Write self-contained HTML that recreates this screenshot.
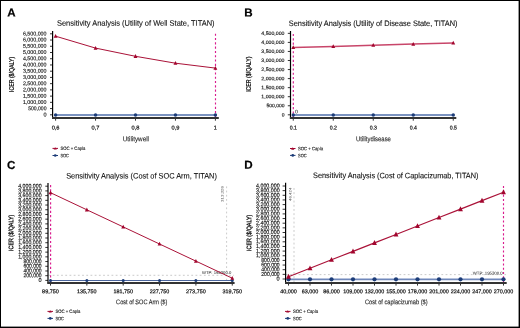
<!DOCTYPE html><html><head><meta charset="utf-8"><style>html,body{margin:0;padding:0;background:#fff;}svg{display:block;font-family:"Liberation Sans",sans-serif;} text{filter:grayscale(1);}</style></head><body>
<svg width="520" height="328" viewBox="0 0 520 328">
<rect x="0" y="0" width="520" height="328" fill="#fff"/>
<text x="7.20" y="16.50" font-size="11.6" text-anchor="start" fill="#000" stroke="#000" stroke-width="0.2" font-weight="bold" transform="rotate(0.05,7.20,16.50)" >A</text>
<text x="244.30" y="16.60" font-size="11.6" text-anchor="start" fill="#000" stroke="#000" stroke-width="0.2" font-weight="bold" transform="rotate(0.05,244.30,16.60)" >B</text>
<text x="6.90" y="168.90" font-size="11.6" text-anchor="start" fill="#000" stroke="#000" stroke-width="0.2" font-weight="bold" transform="rotate(0.05,6.90,168.90)" >C</text>
<text x="244.30" y="168.80" font-size="11.6" text-anchor="start" fill="#000" stroke="#000" stroke-width="0.2" font-weight="bold" transform="rotate(0.05,244.30,168.80)" >D</text>
<text x="57.00" y="25.70" font-size="7.9" text-anchor="start" fill="#111" stroke="#111" stroke-width="0.1" font-weight="normal" textLength="157.50" lengthAdjust="spacingAndGlyphs" transform="rotate(0.05,57.00,25.70)" >Sensitivity Analysis (Utility of Well State, TITAN)</text>
<line x1="50.00" y1="114.80" x2="52.60" y2="114.80" stroke="#000" stroke-width="0.8"/>
<text x="46.50" y="116.40" font-size="5.5" text-anchor="end" fill="#111" stroke="#111" stroke-width="0.13" font-weight="normal" transform="rotate(0.05,46.50,116.40)" >0</text>
<line x1="50.00" y1="108.57" x2="52.60" y2="108.57" stroke="#000" stroke-width="0.8"/>
<text x="46.50" y="110.17" font-size="5.5" text-anchor="end" fill="#111" stroke="#111" stroke-width="0.13" font-weight="normal" textLength="18.36" lengthAdjust="spacingAndGlyphs" transform="rotate(0.05,46.50,110.17)" >500,000</text>
<line x1="50.00" y1="102.34" x2="52.60" y2="102.34" stroke="#000" stroke-width="0.8"/>
<text x="46.50" y="103.94" font-size="5.5" text-anchor="end" fill="#111" stroke="#111" stroke-width="0.13" font-weight="normal" textLength="23.60" lengthAdjust="spacingAndGlyphs" transform="rotate(0.05,46.50,103.94)" >1,000,000</text>
<line x1="50.00" y1="96.11" x2="52.60" y2="96.11" stroke="#000" stroke-width="0.8"/>
<text x="46.50" y="97.71" font-size="5.5" text-anchor="end" fill="#111" stroke="#111" stroke-width="0.13" font-weight="normal" textLength="23.60" lengthAdjust="spacingAndGlyphs" transform="rotate(0.05,46.50,97.71)" >1,500,000</text>
<line x1="50.00" y1="89.88" x2="52.60" y2="89.88" stroke="#000" stroke-width="0.8"/>
<text x="46.50" y="91.48" font-size="5.5" text-anchor="end" fill="#111" stroke="#111" stroke-width="0.13" font-weight="normal" textLength="23.60" lengthAdjust="spacingAndGlyphs" transform="rotate(0.05,46.50,91.48)" >2,000,000</text>
<line x1="50.00" y1="83.65" x2="52.60" y2="83.65" stroke="#000" stroke-width="0.8"/>
<text x="46.50" y="85.25" font-size="5.5" text-anchor="end" fill="#111" stroke="#111" stroke-width="0.13" font-weight="normal" textLength="23.60" lengthAdjust="spacingAndGlyphs" transform="rotate(0.05,46.50,85.25)" >2,500,000</text>
<line x1="50.00" y1="77.42" x2="52.60" y2="77.42" stroke="#000" stroke-width="0.8"/>
<text x="46.50" y="79.02" font-size="5.5" text-anchor="end" fill="#111" stroke="#111" stroke-width="0.13" font-weight="normal" textLength="23.60" lengthAdjust="spacingAndGlyphs" transform="rotate(0.05,46.50,79.02)" >3,000,000</text>
<line x1="50.00" y1="71.19" x2="52.60" y2="71.19" stroke="#000" stroke-width="0.8"/>
<text x="46.50" y="72.79" font-size="5.5" text-anchor="end" fill="#111" stroke="#111" stroke-width="0.13" font-weight="normal" textLength="23.60" lengthAdjust="spacingAndGlyphs" transform="rotate(0.05,46.50,72.79)" >3,500,000</text>
<line x1="50.00" y1="64.96" x2="52.60" y2="64.96" stroke="#000" stroke-width="0.8"/>
<text x="46.50" y="66.56" font-size="5.5" text-anchor="end" fill="#111" stroke="#111" stroke-width="0.13" font-weight="normal" textLength="23.60" lengthAdjust="spacingAndGlyphs" transform="rotate(0.05,46.50,66.56)" >4,000,000</text>
<line x1="50.00" y1="58.73" x2="52.60" y2="58.73" stroke="#000" stroke-width="0.8"/>
<text x="46.50" y="60.33" font-size="5.5" text-anchor="end" fill="#111" stroke="#111" stroke-width="0.13" font-weight="normal" textLength="23.60" lengthAdjust="spacingAndGlyphs" transform="rotate(0.05,46.50,60.33)" >4,500,000</text>
<line x1="50.00" y1="52.50" x2="52.60" y2="52.50" stroke="#000" stroke-width="0.8"/>
<text x="46.50" y="54.10" font-size="5.5" text-anchor="end" fill="#111" stroke="#111" stroke-width="0.13" font-weight="normal" textLength="23.60" lengthAdjust="spacingAndGlyphs" transform="rotate(0.05,46.50,54.10)" >5,000,000</text>
<line x1="50.00" y1="46.27" x2="52.60" y2="46.27" stroke="#000" stroke-width="0.8"/>
<text x="46.50" y="47.87" font-size="5.5" text-anchor="end" fill="#111" stroke="#111" stroke-width="0.13" font-weight="normal" textLength="23.60" lengthAdjust="spacingAndGlyphs" transform="rotate(0.05,46.50,47.87)" >5,500,000</text>
<line x1="50.00" y1="40.04" x2="52.60" y2="40.04" stroke="#000" stroke-width="0.8"/>
<text x="46.50" y="41.64" font-size="5.5" text-anchor="end" fill="#111" stroke="#111" stroke-width="0.13" font-weight="normal" textLength="23.60" lengthAdjust="spacingAndGlyphs" transform="rotate(0.05,46.50,41.64)" >6,000,000</text>
<line x1="50.00" y1="33.81" x2="52.60" y2="33.81" stroke="#000" stroke-width="0.8"/>
<text x="46.50" y="35.41" font-size="5.5" text-anchor="end" fill="#111" stroke="#111" stroke-width="0.13" font-weight="normal" textLength="23.60" lengthAdjust="spacingAndGlyphs" transform="rotate(0.05,46.50,35.41)" >6,500,000</text>
<line x1="55.60" y1="118.00" x2="55.60" y2="120.70" stroke="#000" stroke-width="0.8"/>
<text x="55.60" y="129.60" font-size="5.5" text-anchor="middle" fill="#111" stroke="#111" stroke-width="0.2" font-weight="normal" textLength="7.90" lengthAdjust="spacingAndGlyphs" transform="rotate(0.05,55.60,129.60)" >0,6</text>
<line x1="95.55" y1="118.00" x2="95.55" y2="120.70" stroke="#000" stroke-width="0.8"/>
<text x="95.55" y="129.60" font-size="5.5" text-anchor="middle" fill="#111" stroke="#111" stroke-width="0.2" font-weight="normal" textLength="7.90" lengthAdjust="spacingAndGlyphs" transform="rotate(0.05,95.55,129.60)" >0,7</text>
<line x1="135.50" y1="118.00" x2="135.50" y2="120.70" stroke="#000" stroke-width="0.8"/>
<text x="135.50" y="129.60" font-size="5.5" text-anchor="middle" fill="#111" stroke="#111" stroke-width="0.2" font-weight="normal" textLength="7.90" lengthAdjust="spacingAndGlyphs" transform="rotate(0.05,135.50,129.60)" >0,8</text>
<line x1="175.45" y1="118.00" x2="175.45" y2="120.70" stroke="#000" stroke-width="0.8"/>
<text x="175.45" y="129.60" font-size="5.5" text-anchor="middle" fill="#111" stroke="#111" stroke-width="0.2" font-weight="normal" textLength="7.90" lengthAdjust="spacingAndGlyphs" transform="rotate(0.05,175.45,129.60)" >0,9</text>
<line x1="215.40" y1="118.00" x2="215.40" y2="120.70" stroke="#000" stroke-width="0.8"/>
<text x="215.40" y="129.60" font-size="5.5" text-anchor="middle" fill="#111" stroke="#111" stroke-width="0.2" font-weight="normal" transform="rotate(0.05,215.40,129.60)" >1</text>
<line x1="52.60" y1="30.90" x2="52.60" y2="118.90" stroke="#000" stroke-width="1.2"/>
<line x1="52.00" y1="118.00" x2="218.80" y2="118.00" stroke="#333" stroke-width="2"/>
<line x1="215.50" y1="33.70" x2="215.50" y2="117.00" stroke="#d91c8e" stroke-width="1.15" stroke-dasharray="2.1 2.2"/>
<line x1="55.60" y1="115.00" x2="215.40" y2="115.00" stroke="#7b93c0" stroke-width="2.0"/>
<circle cx="55.60" cy="115.00" r="1.75" fill="#1c3c78"/>
<circle cx="95.55" cy="115.00" r="1.75" fill="#1c3c78"/>
<circle cx="135.50" cy="115.00" r="1.75" fill="#1c3c78"/>
<circle cx="175.45" cy="115.00" r="1.75" fill="#1c3c78"/>
<circle cx="215.40" cy="115.00" r="1.75" fill="#1c3c78"/>
<polyline points="55.60,36.20 95.55,48.10 135.50,56.30 175.45,63.20 215.40,68.10" fill="none" stroke="#aa1238" stroke-width="1.0"/>
<path d="M53.65,37.80L55.60,34.00L57.55,37.80Z" fill="#a2062e"/>
<path d="M93.60,49.70L95.55,45.90L97.50,49.70Z" fill="#a2062e"/>
<path d="M133.55,57.90L135.50,54.10L137.45,57.90Z" fill="#a2062e"/>
<path d="M173.50,64.80L175.45,61.00L177.40,64.80Z" fill="#a2062e"/>
<path d="M213.45,69.70L215.40,65.90L217.35,69.70Z" fill="#a2062e"/>
<text x="122.70" y="141.20" font-size="6.8" text-anchor="start" fill="#222" stroke="#222" stroke-width="0.1" font-weight="normal" textLength="26.30" lengthAdjust="spacingAndGlyphs" transform="rotate(0.05,122.70,141.20)" >Utilitywell</text>
<text x="0" y="0" font-size="6.6" fill="#111" stroke="#111" stroke-width="0.3" text-anchor="middle" textLength="35.3" lengthAdjust="spacingAndGlyphs" transform="translate(11.50,74.40) rotate(-89.95) translate(0,2.3)">ICER ($/QALY)</text>
<line x1="52.50" y1="148.40" x2="58.00" y2="148.40" stroke="#a2062e" stroke-width="1.0"/>
<path d="M53.65,149.61L55.25,147.21L56.85,149.61Z" fill="#a2062e"/>
<line x1="52.50" y1="155.50" x2="58.00" y2="155.50" stroke="#1c3c78" stroke-width="1.0"/>
<circle cx="55.25" cy="155.50" r="1.3" fill="#1c3c78"/>
<text x="60.40" y="150.10" font-size="4.8" text-anchor="start" fill="#111" stroke="#111" stroke-width="0.1" font-weight="normal" textLength="25.00" lengthAdjust="spacingAndGlyphs" transform="rotate(0.05,60.40,150.10)" >SOC + Capla</text>
<text x="60.40" y="157.30" font-size="4.8" text-anchor="start" fill="#111" stroke="#111" stroke-width="0.1" font-weight="normal" textLength="8.60" lengthAdjust="spacingAndGlyphs" transform="rotate(0.05,60.40,157.30)" >SOC</text>
<text x="288.80" y="25.90" font-size="7.9" text-anchor="start" fill="#111" stroke="#111" stroke-width="0.1" font-weight="normal" textLength="168.70" lengthAdjust="spacingAndGlyphs" transform="rotate(0.05,288.80,25.90)" >Sensitivity Analysis (Utility of Disease State, TITAN)</text>
<line x1="287.80" y1="114.80" x2="290.50" y2="114.80" stroke="#000" stroke-width="0.8"/>
<text x="284.50" y="116.40" font-size="5.0" text-anchor="end" fill="#111" stroke="#111" stroke-width="0.13" font-weight="normal" transform="rotate(0.05,284.50,116.40)" >0</text>
<line x1="287.80" y1="105.75" x2="290.50" y2="105.75" stroke="#000" stroke-width="0.8"/>
<text x="284.50" y="107.35" font-size="5.0" text-anchor="end" fill="#111" stroke="#111" stroke-width="0.13" font-weight="normal" textLength="18.04" lengthAdjust="spacingAndGlyphs" transform="rotate(0.05,284.50,107.35)" >500,000</text>
<line x1="287.80" y1="96.70" x2="290.50" y2="96.70" stroke="#000" stroke-width="0.8"/>
<text x="284.50" y="98.30" font-size="5.0" text-anchor="end" fill="#111" stroke="#111" stroke-width="0.13" font-weight="normal" textLength="23.20" lengthAdjust="spacingAndGlyphs" transform="rotate(0.05,284.50,98.30)" >1,000,000</text>
<line x1="287.80" y1="87.65" x2="290.50" y2="87.65" stroke="#000" stroke-width="0.8"/>
<text x="284.50" y="89.25" font-size="5.0" text-anchor="end" fill="#111" stroke="#111" stroke-width="0.13" font-weight="normal" textLength="23.20" lengthAdjust="spacingAndGlyphs" transform="rotate(0.05,284.50,89.25)" >1,500,000</text>
<line x1="287.80" y1="78.60" x2="290.50" y2="78.60" stroke="#000" stroke-width="0.8"/>
<text x="284.50" y="80.20" font-size="5.0" text-anchor="end" fill="#111" stroke="#111" stroke-width="0.13" font-weight="normal" textLength="23.20" lengthAdjust="spacingAndGlyphs" transform="rotate(0.05,284.50,80.20)" >2,000,000</text>
<line x1="287.80" y1="69.55" x2="290.50" y2="69.55" stroke="#000" stroke-width="0.8"/>
<text x="284.50" y="71.15" font-size="5.0" text-anchor="end" fill="#111" stroke="#111" stroke-width="0.13" font-weight="normal" textLength="23.20" lengthAdjust="spacingAndGlyphs" transform="rotate(0.05,284.50,71.15)" >2,500,000</text>
<line x1="287.80" y1="60.50" x2="290.50" y2="60.50" stroke="#000" stroke-width="0.8"/>
<text x="284.50" y="62.10" font-size="5.0" text-anchor="end" fill="#111" stroke="#111" stroke-width="0.13" font-weight="normal" textLength="23.20" lengthAdjust="spacingAndGlyphs" transform="rotate(0.05,284.50,62.10)" >3,000,000</text>
<line x1="287.80" y1="51.45" x2="290.50" y2="51.45" stroke="#000" stroke-width="0.8"/>
<text x="284.50" y="53.05" font-size="5.0" text-anchor="end" fill="#111" stroke="#111" stroke-width="0.13" font-weight="normal" textLength="23.20" lengthAdjust="spacingAndGlyphs" transform="rotate(0.05,284.50,53.05)" >3,500,000</text>
<line x1="287.80" y1="42.40" x2="290.50" y2="42.40" stroke="#000" stroke-width="0.8"/>
<text x="284.50" y="44.00" font-size="5.0" text-anchor="end" fill="#111" stroke="#111" stroke-width="0.13" font-weight="normal" textLength="23.20" lengthAdjust="spacingAndGlyphs" transform="rotate(0.05,284.50,44.00)" >4,000,000</text>
<line x1="287.80" y1="33.35" x2="290.50" y2="33.35" stroke="#000" stroke-width="0.8"/>
<text x="284.50" y="34.95" font-size="5.0" text-anchor="end" fill="#111" stroke="#111" stroke-width="0.13" font-weight="normal" textLength="23.20" lengthAdjust="spacingAndGlyphs" transform="rotate(0.05,284.50,34.95)" >4,500,000</text>
<line x1="293.25" y1="118.00" x2="293.25" y2="120.70" stroke="#000" stroke-width="0.8"/>
<text x="293.25" y="129.60" font-size="5.5" text-anchor="middle" fill="#111" stroke="#111" stroke-width="0.2" font-weight="normal" textLength="7.20" lengthAdjust="spacingAndGlyphs" transform="rotate(0.05,293.25,129.60)" >0.1</text>
<line x1="333.25" y1="118.00" x2="333.25" y2="120.70" stroke="#000" stroke-width="0.8"/>
<text x="333.25" y="129.60" font-size="5.5" text-anchor="middle" fill="#111" stroke="#111" stroke-width="0.2" font-weight="normal" textLength="7.20" lengthAdjust="spacingAndGlyphs" transform="rotate(0.05,333.25,129.60)" >0.2</text>
<line x1="373.25" y1="118.00" x2="373.25" y2="120.70" stroke="#000" stroke-width="0.8"/>
<text x="373.25" y="129.60" font-size="5.5" text-anchor="middle" fill="#111" stroke="#111" stroke-width="0.2" font-weight="normal" textLength="7.20" lengthAdjust="spacingAndGlyphs" transform="rotate(0.05,373.25,129.60)" >0.3</text>
<line x1="413.25" y1="118.00" x2="413.25" y2="120.70" stroke="#000" stroke-width="0.8"/>
<text x="413.25" y="129.60" font-size="5.5" text-anchor="middle" fill="#111" stroke="#111" stroke-width="0.2" font-weight="normal" textLength="7.20" lengthAdjust="spacingAndGlyphs" transform="rotate(0.05,413.25,129.60)" >0.4</text>
<line x1="453.25" y1="118.00" x2="453.25" y2="120.70" stroke="#000" stroke-width="0.8"/>
<text x="453.25" y="129.60" font-size="5.5" text-anchor="middle" fill="#111" stroke="#111" stroke-width="0.2" font-weight="normal" textLength="7.20" lengthAdjust="spacingAndGlyphs" transform="rotate(0.05,453.25,129.60)" >0.5</text>
<line x1="290.50" y1="31.00" x2="290.50" y2="118.90" stroke="#000" stroke-width="1.2"/>
<line x1="289.90" y1="118.00" x2="456.30" y2="118.00" stroke="#333" stroke-width="2"/>
<line x1="293.30" y1="34.00" x2="293.30" y2="117.00" stroke="#d91c8e" stroke-width="1.15" stroke-dasharray="2.1 2.2"/>
<text x="295.10" y="113.50" font-size="5.2" text-anchor="start" fill="#111" stroke="#111" stroke-width="0.03" font-weight="normal" transform="rotate(0.05,295.10,113.50)" >0</text>
<line x1="293.25" y1="115.00" x2="453.25" y2="115.00" stroke="#7b93c0" stroke-width="2.0"/>
<circle cx="293.25" cy="115.00" r="1.75" fill="#1c3c78"/>
<circle cx="333.25" cy="115.00" r="1.75" fill="#1c3c78"/>
<circle cx="373.25" cy="115.00" r="1.75" fill="#1c3c78"/>
<circle cx="413.25" cy="115.00" r="1.75" fill="#1c3c78"/>
<circle cx="453.25" cy="115.00" r="1.75" fill="#1c3c78"/>
<polyline points="293.25,47.50 333.25,46.40 373.25,45.20 413.25,44.10 453.25,43.00" fill="none" stroke="#c8466a" stroke-width="1.5"/>
<path d="M291.30,49.10L293.25,45.30L295.20,49.10Z" fill="#a2062e"/>
<path d="M331.30,48.00L333.25,44.20L335.20,48.00Z" fill="#a2062e"/>
<path d="M371.30,46.80L373.25,43.00L375.20,46.80Z" fill="#a2062e"/>
<path d="M411.30,45.70L413.25,41.90L415.20,45.70Z" fill="#a2062e"/>
<path d="M451.30,44.60L453.25,40.80L455.20,44.60Z" fill="#a2062e"/>
<text x="356.00" y="141.20" font-size="6.8" text-anchor="start" fill="#222" stroke="#222" stroke-width="0.1" font-weight="normal" textLength="34.90" lengthAdjust="spacingAndGlyphs" transform="rotate(0.05,356.00,141.20)" >Utilitydisease</text>
<text x="0" y="0" font-size="6.6" fill="#111" stroke="#111" stroke-width="0.3" text-anchor="middle" textLength="35.3" lengthAdjust="spacingAndGlyphs" transform="translate(248.40,74.20) rotate(-89.95) translate(0,2.3)">ICER ($/QALY)</text>
<line x1="290.00" y1="148.50" x2="295.50" y2="148.50" stroke="#a2062e" stroke-width="1.0"/>
<path d="M291.15,149.71L292.75,147.31L294.35,149.71Z" fill="#a2062e"/>
<line x1="290.00" y1="155.40" x2="295.50" y2="155.40" stroke="#1c3c78" stroke-width="1.0"/>
<circle cx="292.75" cy="155.40" r="1.3" fill="#1c3c78"/>
<text x="298.00" y="150.20" font-size="4.8" text-anchor="start" fill="#111" stroke="#111" stroke-width="0.1" font-weight="normal" textLength="25.00" lengthAdjust="spacingAndGlyphs" transform="rotate(0.05,298.00,150.20)" >SOC + Capla</text>
<text x="298.00" y="157.20" font-size="4.8" text-anchor="start" fill="#111" stroke="#111" stroke-width="0.1" font-weight="normal" textLength="8.60" lengthAdjust="spacingAndGlyphs" transform="rotate(0.05,298.00,157.20)" >SOC</text>
<text x="66.20" y="178.50" font-size="7.9" text-anchor="start" fill="#111" stroke="#111" stroke-width="0.1" font-weight="normal" textLength="150.70" lengthAdjust="spacingAndGlyphs" transform="rotate(0.05,66.20,178.50)" >Sensitivity Analysis (Cost of SOC Arm, TITAN)</text>
<line x1="45.30" y1="280.40" x2="48.00" y2="280.40" stroke="#000" stroke-width="0.8"/>
<text x="41.60" y="282.00" font-size="5.6" text-anchor="end" fill="#111" stroke="#111" stroke-width="0.13" font-weight="normal" transform="rotate(0.05,41.60,282.00)" >0</text>
<line x1="45.30" y1="275.69" x2="48.00" y2="275.69" stroke="#000" stroke-width="0.8"/>
<text x="41.60" y="277.29" font-size="5.6" text-anchor="end" fill="#111" stroke="#111" stroke-width="0.13" font-weight="normal" textLength="18.20" lengthAdjust="spacingAndGlyphs" transform="rotate(0.05,41.60,277.29)" >200,000</text>
<line x1="45.30" y1="270.98" x2="48.00" y2="270.98" stroke="#000" stroke-width="0.8"/>
<text x="41.60" y="272.58" font-size="5.6" text-anchor="end" fill="#111" stroke="#111" stroke-width="0.13" font-weight="normal" textLength="18.20" lengthAdjust="spacingAndGlyphs" transform="rotate(0.05,41.60,272.58)" >400,000</text>
<line x1="45.30" y1="266.27" x2="48.00" y2="266.27" stroke="#000" stroke-width="0.8"/>
<text x="41.60" y="267.87" font-size="5.6" text-anchor="end" fill="#111" stroke="#111" stroke-width="0.13" font-weight="normal" textLength="18.20" lengthAdjust="spacingAndGlyphs" transform="rotate(0.05,41.60,267.87)" >600,000</text>
<line x1="45.30" y1="261.56" x2="48.00" y2="261.56" stroke="#000" stroke-width="0.8"/>
<text x="41.60" y="263.16" font-size="5.6" text-anchor="end" fill="#111" stroke="#111" stroke-width="0.13" font-weight="normal" textLength="18.20" lengthAdjust="spacingAndGlyphs" transform="rotate(0.05,41.60,263.16)" >800,000</text>
<line x1="45.30" y1="256.85" x2="48.00" y2="256.85" stroke="#000" stroke-width="0.8"/>
<text x="41.60" y="258.45" font-size="5.6" text-anchor="end" fill="#111" stroke="#111" stroke-width="0.13" font-weight="normal" textLength="23.40" lengthAdjust="spacingAndGlyphs" transform="rotate(0.05,41.60,258.45)" >1,000,000</text>
<line x1="45.30" y1="252.14" x2="48.00" y2="252.14" stroke="#000" stroke-width="0.8"/>
<text x="41.60" y="253.74" font-size="5.6" text-anchor="end" fill="#111" stroke="#111" stroke-width="0.13" font-weight="normal" textLength="23.40" lengthAdjust="spacingAndGlyphs" transform="rotate(0.05,41.60,253.74)" >1,200,000</text>
<line x1="45.30" y1="247.43" x2="48.00" y2="247.43" stroke="#000" stroke-width="0.8"/>
<text x="41.60" y="249.03" font-size="5.6" text-anchor="end" fill="#111" stroke="#111" stroke-width="0.13" font-weight="normal" textLength="23.40" lengthAdjust="spacingAndGlyphs" transform="rotate(0.05,41.60,249.03)" >1,400,000</text>
<line x1="45.30" y1="242.72" x2="48.00" y2="242.72" stroke="#000" stroke-width="0.8"/>
<text x="41.60" y="244.32" font-size="5.6" text-anchor="end" fill="#111" stroke="#111" stroke-width="0.13" font-weight="normal" textLength="23.40" lengthAdjust="spacingAndGlyphs" transform="rotate(0.05,41.60,244.32)" >1,600,000</text>
<line x1="45.30" y1="238.01" x2="48.00" y2="238.01" stroke="#000" stroke-width="0.8"/>
<text x="41.60" y="239.61" font-size="5.6" text-anchor="end" fill="#111" stroke="#111" stroke-width="0.13" font-weight="normal" textLength="23.40" lengthAdjust="spacingAndGlyphs" transform="rotate(0.05,41.60,239.61)" >1,800,000</text>
<line x1="45.30" y1="233.30" x2="48.00" y2="233.30" stroke="#000" stroke-width="0.8"/>
<text x="41.60" y="234.90" font-size="5.6" text-anchor="end" fill="#111" stroke="#111" stroke-width="0.13" font-weight="normal" textLength="23.40" lengthAdjust="spacingAndGlyphs" transform="rotate(0.05,41.60,234.90)" >2,000,000</text>
<line x1="45.30" y1="228.59" x2="48.00" y2="228.59" stroke="#000" stroke-width="0.8"/>
<text x="41.60" y="230.19" font-size="5.6" text-anchor="end" fill="#111" stroke="#111" stroke-width="0.13" font-weight="normal" textLength="23.40" lengthAdjust="spacingAndGlyphs" transform="rotate(0.05,41.60,230.19)" >2,200,000</text>
<line x1="45.30" y1="223.88" x2="48.00" y2="223.88" stroke="#000" stroke-width="0.8"/>
<text x="41.60" y="225.48" font-size="5.6" text-anchor="end" fill="#111" stroke="#111" stroke-width="0.13" font-weight="normal" textLength="23.40" lengthAdjust="spacingAndGlyphs" transform="rotate(0.05,41.60,225.48)" >2,400,000</text>
<line x1="45.30" y1="219.17" x2="48.00" y2="219.17" stroke="#000" stroke-width="0.8"/>
<text x="41.60" y="220.77" font-size="5.6" text-anchor="end" fill="#111" stroke="#111" stroke-width="0.13" font-weight="normal" textLength="23.40" lengthAdjust="spacingAndGlyphs" transform="rotate(0.05,41.60,220.77)" >2,600,000</text>
<line x1="45.30" y1="214.46" x2="48.00" y2="214.46" stroke="#000" stroke-width="0.8"/>
<text x="41.60" y="216.06" font-size="5.6" text-anchor="end" fill="#111" stroke="#111" stroke-width="0.13" font-weight="normal" textLength="23.40" lengthAdjust="spacingAndGlyphs" transform="rotate(0.05,41.60,216.06)" >2,800,000</text>
<line x1="45.30" y1="209.75" x2="48.00" y2="209.75" stroke="#000" stroke-width="0.8"/>
<text x="41.60" y="211.35" font-size="5.6" text-anchor="end" fill="#111" stroke="#111" stroke-width="0.13" font-weight="normal" textLength="23.40" lengthAdjust="spacingAndGlyphs" transform="rotate(0.05,41.60,211.35)" >3,000,000</text>
<line x1="45.30" y1="205.04" x2="48.00" y2="205.04" stroke="#000" stroke-width="0.8"/>
<text x="41.60" y="206.64" font-size="5.6" text-anchor="end" fill="#111" stroke="#111" stroke-width="0.13" font-weight="normal" textLength="23.40" lengthAdjust="spacingAndGlyphs" transform="rotate(0.05,41.60,206.64)" >3,200,000</text>
<line x1="45.30" y1="200.33" x2="48.00" y2="200.33" stroke="#000" stroke-width="0.8"/>
<text x="41.60" y="201.93" font-size="5.6" text-anchor="end" fill="#111" stroke="#111" stroke-width="0.13" font-weight="normal" textLength="23.40" lengthAdjust="spacingAndGlyphs" transform="rotate(0.05,41.60,201.93)" >3,400,000</text>
<line x1="45.30" y1="195.62" x2="48.00" y2="195.62" stroke="#000" stroke-width="0.8"/>
<text x="41.60" y="197.22" font-size="5.6" text-anchor="end" fill="#111" stroke="#111" stroke-width="0.13" font-weight="normal" textLength="23.40" lengthAdjust="spacingAndGlyphs" transform="rotate(0.05,41.60,197.22)" >3,600,000</text>
<line x1="45.30" y1="190.91" x2="48.00" y2="190.91" stroke="#000" stroke-width="0.8"/>
<text x="41.60" y="192.51" font-size="5.6" text-anchor="end" fill="#111" stroke="#111" stroke-width="0.13" font-weight="normal" textLength="23.40" lengthAdjust="spacingAndGlyphs" transform="rotate(0.05,41.60,192.51)" >3,800,000</text>
<line x1="45.30" y1="186.20" x2="48.00" y2="186.20" stroke="#000" stroke-width="0.8"/>
<text x="41.60" y="187.80" font-size="5.6" text-anchor="end" fill="#111" stroke="#111" stroke-width="0.13" font-weight="normal" textLength="23.40" lengthAdjust="spacingAndGlyphs" transform="rotate(0.05,41.60,187.80)" >4,000,000</text>
<line x1="50.50" y1="282.90" x2="50.50" y2="285.60" stroke="#000" stroke-width="0.8"/>
<text x="50.50" y="293.20" font-size="5.5" text-anchor="middle" fill="#111" stroke="#111" stroke-width="0.2" font-weight="normal" textLength="16.80" lengthAdjust="spacingAndGlyphs" transform="rotate(0.05,50.50,293.20)" >89,750</text>
<line x1="86.85" y1="282.90" x2="86.85" y2="285.60" stroke="#000" stroke-width="0.8"/>
<text x="86.85" y="293.20" font-size="5.5" text-anchor="middle" fill="#111" stroke="#111" stroke-width="0.2" font-weight="normal" textLength="19.60" lengthAdjust="spacingAndGlyphs" transform="rotate(0.05,86.85,293.20)" >135,750</text>
<line x1="123.20" y1="282.90" x2="123.20" y2="285.60" stroke="#000" stroke-width="0.8"/>
<text x="123.20" y="293.20" font-size="5.5" text-anchor="middle" fill="#111" stroke="#111" stroke-width="0.2" font-weight="normal" textLength="19.60" lengthAdjust="spacingAndGlyphs" transform="rotate(0.05,123.20,293.20)" >181,750</text>
<line x1="159.55" y1="282.90" x2="159.55" y2="285.60" stroke="#000" stroke-width="0.8"/>
<text x="159.55" y="293.20" font-size="5.5" text-anchor="middle" fill="#111" stroke="#111" stroke-width="0.2" font-weight="normal" textLength="19.60" lengthAdjust="spacingAndGlyphs" transform="rotate(0.05,159.55,293.20)" >227,750</text>
<line x1="195.90" y1="282.90" x2="195.90" y2="285.60" stroke="#000" stroke-width="0.8"/>
<text x="195.90" y="293.20" font-size="5.5" text-anchor="middle" fill="#111" stroke="#111" stroke-width="0.2" font-weight="normal" textLength="19.60" lengthAdjust="spacingAndGlyphs" transform="rotate(0.05,195.90,293.20)" >273,750</text>
<line x1="232.25" y1="282.90" x2="232.25" y2="285.60" stroke="#000" stroke-width="0.8"/>
<text x="232.25" y="293.20" font-size="5.5" text-anchor="middle" fill="#111" stroke="#111" stroke-width="0.2" font-weight="normal" textLength="19.60" lengthAdjust="spacingAndGlyphs" transform="rotate(0.05,232.25,293.20)" >319,750</text>
<line x1="48.50" y1="275.30" x2="234.00" y2="275.30" stroke="#b4b4b4" stroke-width="0.7" stroke-dasharray="1.8 2.4"/>
<line x1="226.60" y1="186.40" x2="226.60" y2="282.00" stroke="#b4b4b4" stroke-width="0.7" stroke-dasharray="1.8 2.4"/>
<text x="0" y="0" font-size="3.6" fill="#555" text-anchor="middle" textLength="16" lengthAdjust="spacingAndGlyphs" transform="translate(222.2,194.0) rotate(-89.95) translate(0,1.3)">313,326</text>
<text x="202.00" y="273.90" font-size="4.1" text-anchor="start" fill="#222" stroke="#222" stroke-width="0.02" font-weight="normal" textLength="29.30" lengthAdjust="spacingAndGlyphs" transform="rotate(0.05,202.00,273.90)" >WTP: 195300.0</text>
<line x1="48.00" y1="183.00" x2="48.00" y2="283.80" stroke="#000" stroke-width="1.2"/>
<line x1="47.40" y1="282.90" x2="234.60" y2="282.90" stroke="#333" stroke-width="2"/>
<line x1="50.60" y1="185.00" x2="50.60" y2="282.00" stroke="#d91c8e" stroke-width="1.15" stroke-dasharray="2.2 2.1"/>
<line x1="50.50" y1="280.50" x2="232.25" y2="280.50" stroke="#4d679e" stroke-width="1.0"/>
<circle cx="50.50" cy="280.50" r="1.5" fill="#1c3c78"/>
<circle cx="86.85" cy="280.50" r="1.5" fill="#1c3c78"/>
<circle cx="123.20" cy="280.50" r="1.5" fill="#1c3c78"/>
<circle cx="159.55" cy="280.50" r="1.5" fill="#1c3c78"/>
<circle cx="195.90" cy="280.50" r="1.5" fill="#1c3c78"/>
<circle cx="232.25" cy="280.50" r="1.5" fill="#1c3c78"/>
<polyline points="50.50,192.70 86.85,209.80 123.20,226.90 159.55,244.00 195.90,261.10 232.25,278.20" fill="none" stroke="#aa1238" stroke-width="1.0"/>
<path d="M48.55,194.30L50.50,190.50L52.45,194.30Z" fill="#a2062e"/>
<path d="M84.90,211.40L86.85,207.60L88.80,211.40Z" fill="#a2062e"/>
<path d="M121.25,228.50L123.20,224.70L125.15,228.50Z" fill="#a2062e"/>
<path d="M157.60,245.60L159.55,241.80L161.50,245.60Z" fill="#a2062e"/>
<path d="M193.95,262.70L195.90,258.90L197.85,262.70Z" fill="#a2062e"/>
<path d="M230.30,279.80L232.25,276.00L234.20,279.80Z" fill="#a2062e"/>
<text x="116.10" y="304.20" font-size="6.8" text-anchor="start" fill="#222" stroke="#222" stroke-width="0.1" font-weight="normal" textLength="51.20" lengthAdjust="spacingAndGlyphs" transform="rotate(0.05,116.10,304.20)" >Cost of SOC Arm ($)</text>
<text x="0" y="0" font-size="6.6" fill="#111" stroke="#111" stroke-width="0.3" text-anchor="middle" textLength="36.3" lengthAdjust="spacingAndGlyphs" transform="translate(10.90,232.80) rotate(-89.95) translate(0,2.3)">ICER ($/QALY)</text>
<line x1="47.50" y1="311.40" x2="53.00" y2="311.40" stroke="#a2062e" stroke-width="1.0"/>
<path d="M48.65,312.61L50.25,310.21L51.85,312.61Z" fill="#a2062e"/>
<line x1="47.50" y1="318.40" x2="53.00" y2="318.40" stroke="#1c3c78" stroke-width="1.0"/>
<circle cx="50.25" cy="318.40" r="1.3" fill="#1c3c78"/>
<text x="55.40" y="313.10" font-size="4.8" text-anchor="start" fill="#111" stroke="#111" stroke-width="0.1" font-weight="normal" textLength="25.00" lengthAdjust="spacingAndGlyphs" transform="rotate(0.05,55.40,313.10)" >SOC + Capla</text>
<text x="55.40" y="320.20" font-size="4.8" text-anchor="start" fill="#111" stroke="#111" stroke-width="0.1" font-weight="normal" textLength="8.60" lengthAdjust="spacingAndGlyphs" transform="rotate(0.05,55.40,320.20)" >SOC</text>
<text x="313.00" y="178.10" font-size="7.9" text-anchor="start" fill="#111" stroke="#111" stroke-width="0.1" font-weight="normal" textLength="165.50" lengthAdjust="spacingAndGlyphs" transform="rotate(0.05,313.00,178.10)" >Sensitivity Analysis (Cost of Caplacizumab, TITAN)</text>
<line x1="282.60" y1="279.00" x2="285.60" y2="279.00" stroke="#000" stroke-width="0.8"/>
<text x="279.70" y="280.60" font-size="5.6" text-anchor="end" fill="#111" stroke="#111" stroke-width="0.13" font-weight="normal" transform="rotate(0.05,279.70,280.60)" >0</text>
<line x1="282.60" y1="274.35" x2="285.60" y2="274.35" stroke="#000" stroke-width="0.8"/>
<text x="279.70" y="275.95" font-size="5.6" text-anchor="end" fill="#111" stroke="#111" stroke-width="0.13" font-weight="normal" textLength="18.43" lengthAdjust="spacingAndGlyphs" transform="rotate(0.05,279.70,275.95)" >200,000</text>
<line x1="282.60" y1="269.70" x2="285.60" y2="269.70" stroke="#000" stroke-width="0.8"/>
<text x="279.70" y="271.30" font-size="5.6" text-anchor="end" fill="#111" stroke="#111" stroke-width="0.13" font-weight="normal" textLength="18.43" lengthAdjust="spacingAndGlyphs" transform="rotate(0.05,279.70,271.30)" >400,000</text>
<line x1="282.60" y1="265.05" x2="285.60" y2="265.05" stroke="#000" stroke-width="0.8"/>
<text x="279.70" y="266.65" font-size="5.6" text-anchor="end" fill="#111" stroke="#111" stroke-width="0.13" font-weight="normal" textLength="18.43" lengthAdjust="spacingAndGlyphs" transform="rotate(0.05,279.70,266.65)" >600,000</text>
<line x1="282.60" y1="260.40" x2="285.60" y2="260.40" stroke="#000" stroke-width="0.8"/>
<text x="279.70" y="262.00" font-size="5.6" text-anchor="end" fill="#111" stroke="#111" stroke-width="0.13" font-weight="normal" textLength="18.43" lengthAdjust="spacingAndGlyphs" transform="rotate(0.05,279.70,262.00)" >800,000</text>
<line x1="282.60" y1="255.75" x2="285.60" y2="255.75" stroke="#000" stroke-width="0.8"/>
<text x="279.70" y="257.35" font-size="5.6" text-anchor="end" fill="#111" stroke="#111" stroke-width="0.13" font-weight="normal" textLength="23.70" lengthAdjust="spacingAndGlyphs" transform="rotate(0.05,279.70,257.35)" >1,000,000</text>
<line x1="282.60" y1="251.10" x2="285.60" y2="251.10" stroke="#000" stroke-width="0.8"/>
<text x="279.70" y="252.70" font-size="5.6" text-anchor="end" fill="#111" stroke="#111" stroke-width="0.13" font-weight="normal" textLength="23.70" lengthAdjust="spacingAndGlyphs" transform="rotate(0.05,279.70,252.70)" >1,200,000</text>
<line x1="282.60" y1="246.45" x2="285.60" y2="246.45" stroke="#000" stroke-width="0.8"/>
<text x="279.70" y="248.05" font-size="5.6" text-anchor="end" fill="#111" stroke="#111" stroke-width="0.13" font-weight="normal" textLength="23.70" lengthAdjust="spacingAndGlyphs" transform="rotate(0.05,279.70,248.05)" >1,400,000</text>
<line x1="282.60" y1="241.80" x2="285.60" y2="241.80" stroke="#000" stroke-width="0.8"/>
<text x="279.70" y="243.40" font-size="5.6" text-anchor="end" fill="#111" stroke="#111" stroke-width="0.13" font-weight="normal" textLength="23.70" lengthAdjust="spacingAndGlyphs" transform="rotate(0.05,279.70,243.40)" >1,600,000</text>
<line x1="282.60" y1="237.15" x2="285.60" y2="237.15" stroke="#000" stroke-width="0.8"/>
<text x="279.70" y="238.75" font-size="5.6" text-anchor="end" fill="#111" stroke="#111" stroke-width="0.13" font-weight="normal" textLength="23.70" lengthAdjust="spacingAndGlyphs" transform="rotate(0.05,279.70,238.75)" >1,800,000</text>
<line x1="282.60" y1="232.50" x2="285.60" y2="232.50" stroke="#000" stroke-width="0.8"/>
<text x="279.70" y="234.10" font-size="5.6" text-anchor="end" fill="#111" stroke="#111" stroke-width="0.13" font-weight="normal" textLength="23.70" lengthAdjust="spacingAndGlyphs" transform="rotate(0.05,279.70,234.10)" >2,000,000</text>
<line x1="282.60" y1="227.85" x2="285.60" y2="227.85" stroke="#000" stroke-width="0.8"/>
<text x="279.70" y="229.45" font-size="5.6" text-anchor="end" fill="#111" stroke="#111" stroke-width="0.13" font-weight="normal" textLength="23.70" lengthAdjust="spacingAndGlyphs" transform="rotate(0.05,279.70,229.45)" >2,200,000</text>
<line x1="282.60" y1="223.20" x2="285.60" y2="223.20" stroke="#000" stroke-width="0.8"/>
<text x="279.70" y="224.80" font-size="5.6" text-anchor="end" fill="#111" stroke="#111" stroke-width="0.13" font-weight="normal" textLength="23.70" lengthAdjust="spacingAndGlyphs" transform="rotate(0.05,279.70,224.80)" >2,400,000</text>
<line x1="282.60" y1="218.55" x2="285.60" y2="218.55" stroke="#000" stroke-width="0.8"/>
<text x="279.70" y="220.15" font-size="5.6" text-anchor="end" fill="#111" stroke="#111" stroke-width="0.13" font-weight="normal" textLength="23.70" lengthAdjust="spacingAndGlyphs" transform="rotate(0.05,279.70,220.15)" >2,600,000</text>
<line x1="282.60" y1="213.90" x2="285.60" y2="213.90" stroke="#000" stroke-width="0.8"/>
<text x="279.70" y="215.50" font-size="5.6" text-anchor="end" fill="#111" stroke="#111" stroke-width="0.13" font-weight="normal" textLength="23.70" lengthAdjust="spacingAndGlyphs" transform="rotate(0.05,279.70,215.50)" >2,800,000</text>
<line x1="282.60" y1="209.25" x2="285.60" y2="209.25" stroke="#000" stroke-width="0.8"/>
<text x="279.70" y="210.85" font-size="5.6" text-anchor="end" fill="#111" stroke="#111" stroke-width="0.13" font-weight="normal" textLength="23.70" lengthAdjust="spacingAndGlyphs" transform="rotate(0.05,279.70,210.85)" >3,000,000</text>
<line x1="282.60" y1="204.60" x2="285.60" y2="204.60" stroke="#000" stroke-width="0.8"/>
<text x="279.70" y="206.20" font-size="5.6" text-anchor="end" fill="#111" stroke="#111" stroke-width="0.13" font-weight="normal" textLength="23.70" lengthAdjust="spacingAndGlyphs" transform="rotate(0.05,279.70,206.20)" >3,200,000</text>
<line x1="282.60" y1="199.95" x2="285.60" y2="199.95" stroke="#000" stroke-width="0.8"/>
<text x="279.70" y="201.55" font-size="5.6" text-anchor="end" fill="#111" stroke="#111" stroke-width="0.13" font-weight="normal" textLength="23.70" lengthAdjust="spacingAndGlyphs" transform="rotate(0.05,279.70,201.55)" >3,400,000</text>
<line x1="282.60" y1="195.30" x2="285.60" y2="195.30" stroke="#000" stroke-width="0.8"/>
<text x="279.70" y="196.90" font-size="5.6" text-anchor="end" fill="#111" stroke="#111" stroke-width="0.13" font-weight="normal" textLength="23.70" lengthAdjust="spacingAndGlyphs" transform="rotate(0.05,279.70,196.90)" >3,600,000</text>
<line x1="282.60" y1="190.65" x2="285.60" y2="190.65" stroke="#000" stroke-width="0.8"/>
<text x="279.70" y="192.25" font-size="5.6" text-anchor="end" fill="#111" stroke="#111" stroke-width="0.13" font-weight="normal" textLength="23.70" lengthAdjust="spacingAndGlyphs" transform="rotate(0.05,279.70,192.25)" >3,800,000</text>
<line x1="282.60" y1="186.00" x2="285.60" y2="186.00" stroke="#000" stroke-width="0.8"/>
<text x="279.70" y="187.60" font-size="5.6" text-anchor="end" fill="#111" stroke="#111" stroke-width="0.13" font-weight="normal" textLength="23.70" lengthAdjust="spacingAndGlyphs" transform="rotate(0.05,279.70,187.60)" >4,000,000</text>
<line x1="288.50" y1="282.90" x2="288.50" y2="285.60" stroke="#000" stroke-width="0.8"/>
<text x="288.50" y="293.30" font-size="5.5" text-anchor="middle" fill="#111" stroke="#111" stroke-width="0.2" font-weight="normal" textLength="16.71" lengthAdjust="spacingAndGlyphs" transform="rotate(0.05,288.50,293.30)" >40,000</text>
<line x1="310.00" y1="282.90" x2="310.00" y2="285.60" stroke="#000" stroke-width="0.8"/>
<text x="310.00" y="293.30" font-size="5.5" text-anchor="middle" fill="#111" stroke="#111" stroke-width="0.2" font-weight="normal" textLength="16.71" lengthAdjust="spacingAndGlyphs" transform="rotate(0.05,310.00,293.30)" >63,000</text>
<line x1="331.50" y1="282.90" x2="331.50" y2="285.60" stroke="#000" stroke-width="0.8"/>
<text x="331.50" y="293.30" font-size="5.5" text-anchor="middle" fill="#111" stroke="#111" stroke-width="0.2" font-weight="normal" textLength="16.71" lengthAdjust="spacingAndGlyphs" transform="rotate(0.05,331.50,293.30)" >86,000</text>
<line x1="353.00" y1="282.90" x2="353.00" y2="285.60" stroke="#000" stroke-width="0.8"/>
<text x="353.00" y="293.30" font-size="5.5" text-anchor="middle" fill="#111" stroke="#111" stroke-width="0.2" font-weight="normal" textLength="19.50" lengthAdjust="spacingAndGlyphs" transform="rotate(0.05,353.00,293.30)" >109,000</text>
<line x1="374.50" y1="282.90" x2="374.50" y2="285.60" stroke="#000" stroke-width="0.8"/>
<text x="374.50" y="293.30" font-size="5.5" text-anchor="middle" fill="#111" stroke="#111" stroke-width="0.2" font-weight="normal" textLength="19.50" lengthAdjust="spacingAndGlyphs" transform="rotate(0.05,374.50,293.30)" >132,000</text>
<line x1="396.00" y1="282.90" x2="396.00" y2="285.60" stroke="#000" stroke-width="0.8"/>
<text x="396.00" y="293.30" font-size="5.5" text-anchor="middle" fill="#111" stroke="#111" stroke-width="0.2" font-weight="normal" textLength="19.50" lengthAdjust="spacingAndGlyphs" transform="rotate(0.05,396.00,293.30)" >155,000</text>
<line x1="417.50" y1="282.90" x2="417.50" y2="285.60" stroke="#000" stroke-width="0.8"/>
<text x="417.50" y="293.30" font-size="5.5" text-anchor="middle" fill="#111" stroke="#111" stroke-width="0.2" font-weight="normal" textLength="19.50" lengthAdjust="spacingAndGlyphs" transform="rotate(0.05,417.50,293.30)" >178,000</text>
<line x1="439.00" y1="282.90" x2="439.00" y2="285.60" stroke="#000" stroke-width="0.8"/>
<text x="439.00" y="293.30" font-size="5.5" text-anchor="middle" fill="#111" stroke="#111" stroke-width="0.2" font-weight="normal" textLength="19.50" lengthAdjust="spacingAndGlyphs" transform="rotate(0.05,439.00,293.30)" >201,000</text>
<line x1="460.50" y1="282.90" x2="460.50" y2="285.60" stroke="#000" stroke-width="0.8"/>
<text x="460.50" y="293.30" font-size="5.5" text-anchor="middle" fill="#111" stroke="#111" stroke-width="0.2" font-weight="normal" textLength="19.50" lengthAdjust="spacingAndGlyphs" transform="rotate(0.05,460.50,293.30)" >224,000</text>
<line x1="482.00" y1="282.90" x2="482.00" y2="285.60" stroke="#000" stroke-width="0.8"/>
<text x="482.00" y="293.30" font-size="5.5" text-anchor="middle" fill="#111" stroke="#111" stroke-width="0.2" font-weight="normal" textLength="19.50" lengthAdjust="spacingAndGlyphs" transform="rotate(0.05,482.00,293.30)" >247,000</text>
<line x1="503.50" y1="282.90" x2="503.50" y2="285.60" stroke="#000" stroke-width="0.8"/>
<text x="503.50" y="293.30" font-size="5.5" text-anchor="middle" fill="#111" stroke="#111" stroke-width="0.2" font-weight="normal" textLength="19.50" lengthAdjust="spacingAndGlyphs" transform="rotate(0.05,503.50,293.30)" >270,000</text>
<line x1="286.00" y1="274.60" x2="506.00" y2="274.60" stroke="#b4b4b4" stroke-width="0.7" stroke-dasharray="1.8 2.4"/>
<line x1="294.00" y1="188.00" x2="294.00" y2="282.00" stroke="#b4b4b4" stroke-width="0.7" stroke-dasharray="1.9 2.3"/>
<text x="0" y="0" font-size="3.6" fill="#555" text-anchor="middle" textLength="13.4" lengthAdjust="spacingAndGlyphs" transform="translate(290.1,194.3) rotate(-89.95) translate(0,1.3)">46,424</text>
<text x="472.80" y="274.50" font-size="4.1" text-anchor="start" fill="#222" stroke="#222" stroke-width="0.02" font-weight="normal" textLength="29.90" lengthAdjust="spacingAndGlyphs" transform="rotate(0.05,472.80,274.50)" >WTP: 195300.0</text>
<line x1="285.60" y1="182.80" x2="285.60" y2="283.80" stroke="#000" stroke-width="1.2"/>
<line x1="285.00" y1="282.90" x2="506.70" y2="282.90" stroke="#333" stroke-width="2"/>
<line x1="503.50" y1="186.00" x2="503.50" y2="282.00" stroke="#d91c8e" stroke-width="1.15" stroke-dasharray="2.1 2.2"/>
<line x1="288.50" y1="279.30" x2="503.50" y2="279.30" stroke="#7088bb" stroke-width="1.7"/>
<circle cx="288.50" cy="279.30" r="2.1" fill="#1c3c78"/>
<circle cx="310.00" cy="279.30" r="2.1" fill="#1c3c78"/>
<circle cx="331.50" cy="279.30" r="2.1" fill="#1c3c78"/>
<circle cx="353.00" cy="279.30" r="2.1" fill="#1c3c78"/>
<circle cx="374.50" cy="279.30" r="2.1" fill="#1c3c78"/>
<circle cx="396.00" cy="279.30" r="2.1" fill="#1c3c78"/>
<circle cx="417.50" cy="279.30" r="2.1" fill="#1c3c78"/>
<circle cx="439.00" cy="279.30" r="2.1" fill="#1c3c78"/>
<circle cx="460.50" cy="279.30" r="2.1" fill="#1c3c78"/>
<circle cx="482.00" cy="279.30" r="2.1" fill="#1c3c78"/>
<circle cx="503.50" cy="279.30" r="2.1" fill="#1c3c78"/>
<polyline points="288.50,276.70 310.00,268.25 331.50,259.80 353.00,251.35 374.50,242.90 396.00,234.45 417.50,226.00 439.00,217.55 460.50,209.10 482.00,200.65 503.50,192.20" fill="none" stroke="#aa1238" stroke-width="1.15"/>
<path d="M286.05,278.76L288.50,273.86L290.95,278.76Z" fill="#a2062e"/>
<path d="M307.55,270.31L310.00,265.41L312.45,270.31Z" fill="#a2062e"/>
<path d="M329.05,261.86L331.50,256.96L333.95,261.86Z" fill="#a2062e"/>
<path d="M350.55,253.41L353.00,248.51L355.45,253.41Z" fill="#a2062e"/>
<path d="M372.05,244.96L374.50,240.06L376.95,244.96Z" fill="#a2062e"/>
<path d="M393.55,236.51L396.00,231.61L398.45,236.51Z" fill="#a2062e"/>
<path d="M415.05,228.06L417.50,223.16L419.95,228.06Z" fill="#a2062e"/>
<path d="M436.55,219.61L439.00,214.71L441.45,219.61Z" fill="#a2062e"/>
<path d="M458.05,211.16L460.50,206.26L462.95,211.16Z" fill="#a2062e"/>
<path d="M479.55,202.71L482.00,197.81L484.45,202.71Z" fill="#a2062e"/>
<path d="M501.05,194.26L503.50,189.36L505.95,194.26Z" fill="#a2062e"/>
<text x="365.00" y="304.20" font-size="6.8" text-anchor="start" fill="#222" stroke="#222" stroke-width="0.1" font-weight="normal" textLength="62.60" lengthAdjust="spacingAndGlyphs" transform="rotate(0.05,365.00,304.20)" >Cost of caplacizumab ($)</text>
<text x="0" y="0" font-size="6.6" fill="#111" stroke="#111" stroke-width="0.3" text-anchor="middle" textLength="36.3" lengthAdjust="spacingAndGlyphs" transform="translate(248.85,232.80) rotate(-89.95) translate(0,2.3)">ICER ($/QALY)</text>
<line x1="285.00" y1="311.40" x2="290.50" y2="311.40" stroke="#a2062e" stroke-width="1.0"/>
<path d="M286.15,312.61L287.75,310.21L289.35,312.61Z" fill="#a2062e"/>
<line x1="285.00" y1="318.40" x2="290.50" y2="318.40" stroke="#1c3c78" stroke-width="1.0"/>
<circle cx="287.75" cy="318.40" r="1.3" fill="#1c3c78"/>
<text x="293.00" y="313.10" font-size="4.8" text-anchor="start" fill="#111" stroke="#111" stroke-width="0.1" font-weight="normal" textLength="25.00" lengthAdjust="spacingAndGlyphs" transform="rotate(0.05,293.00,313.10)" >SOC + Capla</text>
<text x="293.00" y="320.20" font-size="4.8" text-anchor="start" fill="#111" stroke="#111" stroke-width="0.1" font-weight="normal" textLength="8.60" lengthAdjust="spacingAndGlyphs" transform="rotate(0.05,293.00,320.20)" >SOC</text>
<rect x="0.5" y="0.5" width="519" height="327" fill="none" stroke="#000" stroke-width="1"/>
<rect x="518.6" y="0" width="1.4" height="328" fill="#000"/>
<rect x="0" y="326.6" width="520" height="1.4" fill="#000"/>
</svg></body></html>
